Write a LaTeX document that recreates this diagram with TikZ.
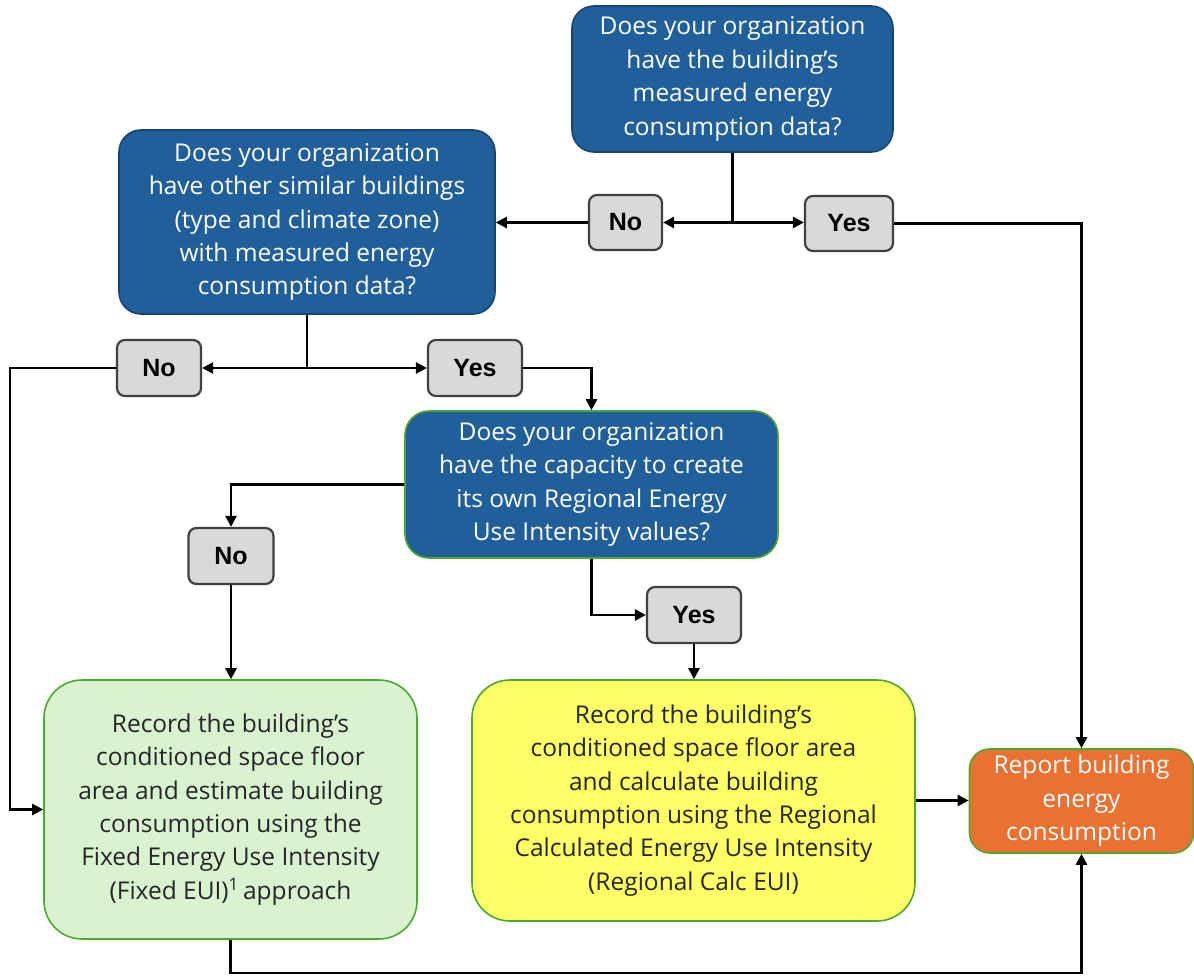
\documentclass[tikz,border=0pt]{standalone}
\usepackage{fontspec}
\setmainfont{Open Sans}
\newfontfamily\lblfont{Liberation Sans}
\usetikzlibrary{arrows.meta}
\definecolor{qblue}{HTML}{215F9A}
\definecolor{qblueb}{HTML}{17456E}
\definecolor{qgreenb}{HTML}{4EA72E}
\definecolor{qgreen}{HTML}{D9F2D0}
\definecolor{qyellow}{HTML}{FFFF66}
\definecolor{qorange}{HTML}{E97132}
\definecolor{qgray}{HTML}{D9D9D9}
\definecolor{qgrayb}{HTML}{404040}
\definecolor{qtext}{HTML}{262626}
\tikzset{
  boxbase/.style={draw, line width=1.6pt, align=center, inner sep=0pt,
    font=\fontsize{24.5}{33.4}\selectfont},
  qbox/.style={boxbase, fill=qblue, draw=qblueb, text=white, rounded corners=22pt},
  qboxg/.style={boxbase, fill=qblue, draw=qgreenb, text=white, rounded corners=24pt},
  gbox/.style={boxbase, fill=qgreen, draw=qgreenb, text=qtext, rounded corners=38pt},
  ybox/.style={boxbase, fill=qyellow, draw=qgreenb, text=qtext, rounded corners=38pt},
  obox/.style={boxbase, fill=qorange, draw=qgreenb, text=white, rounded corners=20pt},
  lbl/.style={draw=qgrayb, fill=qgray, line width=2.2pt, rounded corners=8pt,
    font=\lblfont\bfseries\fontsize{25}{28}\selectfont, text=black, inner sep=0pt},
  conn/.style={line width=2.5pt, black},
  arr/.style={conn, -{Triangle[length=11pt,width=11pt]}}
}
\begin{document}
\begin{tikzpicture}[x=1pt,y=-1pt]
\useasboundingbox (0,0) rectangle (1194,976);
% boxes
\node[qbox, minimum width=321pt, minimum height=146pt] (A) at (732.5,79)
  {Does your organization\\have the building’s\\measured energy\\consumption data?};
\node[qbox, minimum width=376pt, minimum height=184pt] (B) at (307,222)
  {Does your organization\\have other similar buildings\\(type and climate zone)\\with measured energy\\consumption data?};
\node[qboxg, minimum width=373pt, minimum height=147pt] (C) at (591.5,484.5)
  {Does your organization\\have the capacity to create\\its own Regional Energy\\Use Intensity values?};
\node[gbox, minimum width=373pt, minimum height=259pt] (D) at (230.5,809.5)
  {Record the building’s\\conditioned space floor\\area and estimate building\\consumption using the\\Fixed Energy Use Intensity\\(Fixed EUI)\textsuperscript{1}\,approach};
\node[ybox, minimum width=443pt, minimum height=241pt] (E) at (693.5,800.5)
  {Record the building’s\\conditioned space floor area\\and calculate building\\consumption using the Regional\\Calculated Energy Use Intensity\\(Regional Calc EUI)};
\node[obox, minimum width=224pt, minimum height=104pt] (F) at (1081.5,801)
  {Report building\\energy\\consumption};
% labels
\node[lbl, minimum width=73pt, minimum height=55pt] (No1) at (625.5,222.5) {No};
\node[lbl, minimum width=88pt, minimum height=55pt] (Yes1) at (849,223.5) {Yes};
\node[lbl, minimum width=84pt, minimum height=56pt] (No2) at (159,368) {No};
\node[lbl, minimum width=94pt, minimum height=56pt] (Yes2) at (475,368) {Yes};
\node[lbl, minimum width=85pt, minimum height=56pt] (No3) at (231,556) {No};
\node[lbl, minimum width=94pt, minimum height=56pt] (Yes3) at (694,615) {Yes};
% connectors
\coordinate (j1) at (A.south |- No1.east);
\coordinate (j2) at (B.south |- No2.east);
\coordinate (lft) at (10,368);
\coordinate (bot) at (231,973);
\draw[conn] (A.south) -- (j1);
\draw[arr] (j1) -- (No1.east);
\draw[arr] (j1) -- (j1 -| Yes1.west);
\draw[arr] (No1.west) -- (No1.west -| B.east);
\draw[arr] (Yes1.east) -| (F.north);
\draw[conn] (B.south) -- (j2);
\draw[arr] (j2) -- (No2.east);
\draw[arr] (j2) -- (Yes2.west);
\draw[arr] (No2.west) -- (lft) |- (D.west);
\draw[arr] (Yes2.east) -| (C.north);
\draw[arr] (C.west) -| (No3.north);
\draw[arr] (No3.south) -- (No3.south |- D.north);
\draw[arr] (C.south) |- (Yes3.west);
\draw[arr] (Yes3.south) -- (Yes3.south |- E.north);
\draw[arr] (E.east) -- (E.east -| F.west);
\draw[arr] (D.south) -- (D.south |- bot) -| (F.south);
\end{tikzpicture}
\end{document}
